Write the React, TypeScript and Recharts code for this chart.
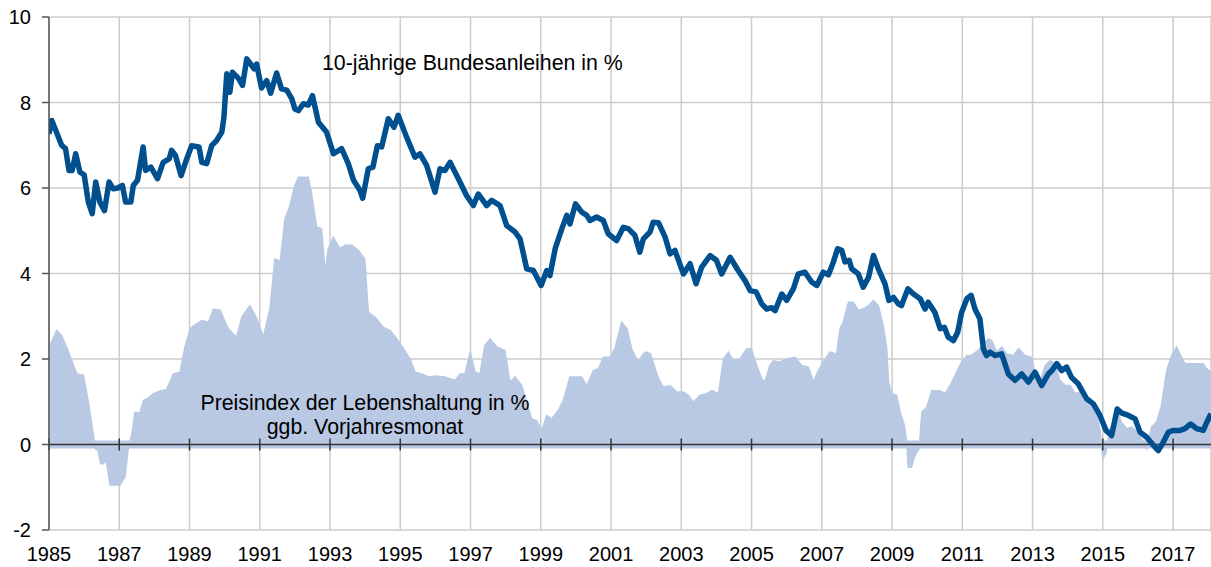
import { ComposedChart, Line, Area, XAxis, YAxis, CartesianGrid, ReferenceLine } from 'recharts';

// 10-jährige Bundesanleihen in %
const bondYears = [
  1985.0, 1985.08, 1985.36, 1985.47, 1985.57, 1985.66, 1985.76, 1985.88, 1986.0, 1986.12,
  1986.23, 1986.33, 1986.45, 1986.58, 1986.71, 1986.83, 1986.96, 1987.09, 1987.18, 1987.33,
  1987.4, 1987.52, 1987.68, 1987.75, 1987.9, 1988.09, 1988.25, 1988.42, 1988.49, 1988.6,
  1988.76, 1988.92, 1989.06, 1989.27, 1989.35, 1989.49, 1989.63, 1989.77, 1989.92, 1989.98,
  1990.06, 1990.15, 1990.22, 1990.4, 1990.51, 1990.63, 1990.84, 1990.91, 1991.05, 1991.2,
  1991.31, 1991.48, 1991.62, 1991.77, 1991.91, 1992.0, 1992.1, 1992.24, 1992.38, 1992.5,
  1992.67, 1992.9, 1993.1, 1993.33, 1993.52, 1993.67, 1993.85, 1993.93, 1994.09, 1994.22,
  1994.35, 1994.47, 1994.66, 1994.82, 1994.94, 1995.18, 1995.42, 1995.56, 1995.75, 1995.99,
  1996.13, 1996.27, 1996.42, 1996.65, 1996.89, 1997.08, 1997.22, 1997.46, 1997.6, 1997.84,
  1998.03, 1998.27, 1998.41, 1998.6, 1998.79, 1999.01, 1999.17, 1999.26, 1999.41, 1999.6,
  1999.74, 1999.83, 1999.99, 2000.16, 2000.31, 2000.4, 2000.59, 2000.78, 2000.92, 2001.16,
  2001.35, 2001.49, 2001.68, 2001.82, 2001.92, 2002.11, 2002.2, 2002.35, 2002.54, 2002.68,
  2002.82, 2003.06, 2003.25, 2003.42, 2003.58, 2003.82, 2004.0, 2004.15, 2004.39, 2004.62,
  2004.81, 2004.96, 2005.13, 2005.29, 2005.43, 2005.57, 2005.67, 2005.86, 2006.0, 2006.19,
  2006.33, 2006.52, 2006.71, 2006.86, 2007.04, 2007.19, 2007.33, 2007.45, 2007.57, 2007.66,
  2007.78, 2007.85, 2008.04, 2008.18, 2008.33, 2008.47, 2008.61, 2008.8, 2008.91, 2009.04,
  2009.18, 2009.27, 2009.45, 2009.61, 2009.8, 2009.94, 2010.03, 2010.22, 2010.37, 2010.49,
  2010.6, 2010.75, 2010.87, 2010.98, 2011.13, 2011.25, 2011.36, 2011.5, 2011.6, 2011.69,
  2011.79, 2011.93, 2012.12, 2012.31, 2012.5, 2012.69, 2012.88, 2013.07, 2013.26, 2013.45,
  2013.55, 2013.69, 2013.83, 2013.97, 2014.11, 2014.3, 2014.54, 2014.73, 2014.92, 2015.09,
  2015.25, 2015.41, 2015.53, 2015.73, 2015.92, 2016.06, 2016.25, 2016.44, 2016.58, 2016.72,
  2016.87, 2017.01, 2017.2, 2017.34, 2017.5, 2017.67, 2017.86, 2017.96, 2018.08,
];
const bondYield = [
  7.27, 7.58, 7.0, 6.92, 6.41, 6.41, 6.8, 6.37, 6.31, 5.67,
  5.4, 6.14, 5.67, 5.47, 6.14, 5.98, 6.0, 6.06, 5.67, 5.67,
  6.06, 6.18, 6.96, 6.41, 6.49, 6.22, 6.6, 6.68, 6.88, 6.76,
  6.29, 6.68, 6.99, 6.96, 6.6, 6.57, 6.99, 7.11, 7.31, 7.65,
  8.67, 8.24, 8.71, 8.56, 8.4, 9.02, 8.79, 8.9, 8.34, 8.51,
  8.22, 8.69, 8.32, 8.29, 8.09, 7.85, 7.81, 7.97, 7.94, 8.16,
  7.54, 7.31, 6.8, 6.92, 6.57, 6.18, 5.95, 5.76, 6.45, 6.49,
  6.99, 6.96, 7.62, 7.42, 7.7, 7.19, 6.72, 6.8, 6.53, 5.9,
  6.45, 6.41, 6.6, 6.22, 5.82, 5.59, 5.86, 5.59, 5.71, 5.59,
  5.12, 4.97, 4.81, 4.11, 4.07, 3.72, 4.07, 3.95, 4.58, 5.05,
  5.36, 5.16, 5.63, 5.44, 5.36, 5.24, 5.32, 5.24, 4.93, 4.77,
  5.08, 5.05, 4.89, 4.5, 4.81, 4.97, 5.2, 5.19, 4.85, 4.46,
  4.54, 3.99, 4.23, 3.76, 4.15, 4.42, 4.31, 3.99, 4.38, 4.07,
  3.84, 3.6, 3.57, 3.29, 3.17, 3.2, 3.13, 3.52, 3.37, 3.64,
  3.99, 4.03, 3.8, 3.72, 4.03, 3.97, 4.27, 4.58, 4.54, 4.27,
  4.31, 4.11, 3.99, 3.68, 3.91, 4.42, 4.11, 3.76, 3.37, 3.44,
  3.29, 3.25, 3.64, 3.52, 3.41, 3.17, 3.33, 3.09, 2.71, 2.74,
  2.51, 2.43, 2.63, 3.09, 3.41, 3.49, 3.17, 2.94, 2.24, 2.08,
  2.16, 2.08, 2.12, 1.65, 1.5, 1.65, 1.46, 1.69, 1.38, 1.65,
  1.73, 1.89, 1.73, 1.81, 1.57, 1.42, 1.07, 0.95, 0.68, 0.33,
  0.21, 0.83, 0.74, 0.68, 0.6, 0.29, 0.17, -0.02, -0.14, 0.05,
  0.29, 0.33, 0.33, 0.37, 0.48, 0.37, 0.33, 0.52, 0.72,
];

// Preisindex der Lebenshaltung in % ggb. Vorjahresmonat
const cpiYears = [
  1985.0, 1985.03, 1985.22, 1985.36, 1985.5, 1985.65, 1985.79, 1985.98, 1986.12, 1986.25,
  1986.32, 1986.4, 1986.47, 1986.55, 1986.62, 1986.74, 1987.02, 1987.16, 1987.26, 1987.35,
  1987.45, 1987.59, 1987.69, 1987.83, 1987.97, 1988.16, 1988.35, 1988.54, 1988.73, 1988.87,
  1989.01, 1989.06, 1989.35, 1989.54, 1989.68, 1989.87, 1990.1, 1990.34, 1990.49, 1990.72,
  1990.91, 1991.1, 1991.29, 1991.43, 1991.58, 1991.72, 1991.86, 1992.0, 1992.1, 1992.38,
  1992.47, 1992.62, 1992.76, 1992.86, 1992.95, 1993.09, 1993.28, 1993.43, 1993.62, 1993.81,
  1993.99, 1994.09, 1994.28, 1994.52, 1994.71, 1994.9, 1995.09, 1995.28, 1995.42, 1995.61,
  1995.8, 1996.04, 1996.27, 1996.56, 1996.7, 1996.84, 1996.99, 1997.13, 1997.27, 1997.41,
  1997.56, 1997.75, 1997.98, 1998.12, 1998.27, 1998.46, 1998.6, 1998.74, 1998.88, 1999.03,
  1999.17, 1999.31, 1999.5, 1999.64, 1999.83, 2000.16, 2000.31, 2000.5, 2000.64, 2000.78,
  2000.97, 2001.11, 2001.3, 2001.45, 2001.59, 2001.77, 2001.92, 2002.0, 2002.12, 2002.35,
  2002.49, 2002.68, 2002.87, 2003.06, 2003.2, 2003.34, 2003.53, 2003.72, 2003.87, 2004.06,
  2004.2, 2004.34, 2004.48, 2004.67, 2004.86, 2004.99, 2005.15, 2005.29, 2005.38, 2005.52,
  2005.62, 2005.8, 2006.0, 2006.24, 2006.43, 2006.62, 2006.76, 2006.9, 2007.04, 2007.23,
  2007.42, 2007.52, 2007.61, 2007.76, 2007.9, 2008.04, 2008.18, 2008.33, 2008.47, 2008.61,
  2008.75, 2008.85, 2008.9, 2008.99, 2009.13, 2009.23, 2009.35, 2009.42, 2009.46, 2009.55,
  2009.65, 2009.77, 2009.85, 2009.99, 2010.13, 2010.37, 2010.51, 2010.65, 2010.79, 2010.98,
  2011.13, 2011.25, 2011.45, 2011.6, 2011.74, 2011.84, 2011.98, 2012.12, 2012.26, 2012.45,
  2012.6, 2012.79, 2012.98, 2013.07, 2013.21, 2013.36, 2013.5, 2013.64, 2013.78, 2013.93,
  2014.07, 2014.21, 2014.35, 2014.54, 2014.68, 2014.83, 2014.92, 2015.0, 2015.09, 2015.19,
  2015.3, 2015.39, 2015.53, 2015.68, 2015.82, 2016.0, 2016.1, 2016.25, 2016.39, 2016.53,
  2016.67, 2016.82, 2016.96, 2017.1, 2017.24, 2017.34, 2017.48, 2017.67, 2017.86, 2017.96,
  2018.08,
];
const cpiRate = [
  2.2, 2.32, 2.67, 2.55, 2.28, 1.96, 1.65, 1.62, 0.99, 0.3,
  -0.1, -0.15, -0.45, -0.45, -0.35, -0.95, -0.95, -0.76, -0.07, 0.21,
  0.76, 0.74, 1.03, 1.09, 1.19, 1.25, 1.29, 1.65, 1.69, 2.28,
  2.67, 2.74, 2.9, 2.86, 3.17, 3.14, 2.71, 2.51, 2.98, 3.25,
  2.96, 2.51, 3.17, 4.34, 4.28, 5.28, 5.59, 6.06, 6.25, 6.25,
  5.9, 5.08, 5.05, 4.03, 4.58, 4.85, 4.58, 4.66, 4.66, 4.54,
  4.34, 3.09, 2.98, 2.74, 2.67, 2.47, 2.24, 2.0, 1.69, 1.65,
  1.58, 1.6, 1.58, 1.5, 1.65, 1.65, 2.16, 1.69, 1.65, 2.32,
  2.47, 2.28, 2.2, 1.46, 1.58, 1.38, 0.99, 0.6, 0.56, 0.33,
  0.68, 0.6, 0.8, 1.03, 1.58, 1.58, 1.38, 1.73, 1.77, 2.04,
  2.04, 2.24, 2.86, 2.71, 2.24, 1.93, 2.12, 2.16, 2.12, 1.54,
  1.34, 1.38, 1.23, 1.23, 1.15, 0.99, 1.15, 1.19, 1.26, 1.19,
  2.0, 2.16, 1.96, 2.0, 2.24, 2.24, 1.85, 1.54, 1.46, 1.85,
  1.96, 1.93, 2.0, 2.04, 1.85, 1.81, 1.46, 1.73, 1.93, 2.16,
  2.12, 2.71, 2.86, 3.33, 3.33, 3.14, 3.17, 3.25, 3.37, 3.25,
  2.78, 2.24, 1.46, 1.19, 1.15, 0.76, 0.45, 0.05, -0.53, -0.53,
  -0.26, -0.1, 0.76, 0.87, 1.26, 1.26, 1.19, 1.38, 1.61, 1.93,
  2.08, 2.08, 2.2, 2.36, 2.47, 2.43, 2.16, 2.28, 2.12, 2.08,
  2.24, 2.08, 2.04, 1.65, 1.46, 1.85, 1.96, 1.89, 1.5, 1.38,
  1.38, 1.19, 1.23, 0.95, 0.87, 0.68, 0.33, -0.33, -0.2, 0.33,
  0.48, 0.83, 0.52, 0.37, 0.41, 0.29, 0.13, -0.1, 0.41, 0.52,
  0.91, 1.73, 2.08, 2.28, 2.04, 1.89, 1.89, 1.89, 1.89, 1.77,
  1.69,
];

const xTicks = [1985, 1987, 1989, 1991, 1993, 1995, 1997, 1999, 2001, 2003, 2005, 2007, 2009, 2011, 2013, 2015, 2017];
const yTicks = [-2, 0, 2, 4, 6, 8, 10];

const bondData = bondYears.map((t, i) => ({ t, v: bondYield[i] }));
const cpiData = cpiYears.map((t, i) => ({ t, v: cpiRate[i] }));

const FONT = '"Liberation Sans", Arial, sans-serif';
const BLUE = '#00508f';
const FILL = '#b9c9e3';

export default function App() {
  return (
    <div style={{ position: 'absolute', left: 0, top: 0, width: 1211, height: 567, background: '#fff', fontFamily: FONT }}>
      <ComposedChart width={1211} height={567} margin={{ top: 17, right: 0, bottom: 0, left: 0 }}>
        <CartesianGrid stroke="#cccccc" strokeWidth={1.5} />
        <XAxis
          type="number"
          dataKey="t"
          domain={[1985, 2018.08]}
          ticks={xTicks}
          allowDataOverflow
          axisLine={false}
          tickLine={false}
          tickSize={0}
          tickMargin={17}
          height={37}
          tick={{ fontSize: 20, fill: '#000', fontFamily: FONT }}
        />
        <YAxis
          type="number"
          domain={[-2, 10]}
          ticks={yTicks}
          width={49}
          axisLine={{ stroke: '#555', strokeWidth: 1.5 }}
          tickLine={{ stroke: '#555', strokeWidth: 1.5 }}
          tickSize={7}
          tickMargin={11}
          tick={{ fontSize: 20, fill: '#000', fontFamily: FONT }}
        />
        <Area
          data={cpiData}
          dataKey="v"
          type="linear"
          baseValue={0}
          fill={FILL}
          fillOpacity={1}
          stroke={FILL}
          strokeWidth={1.5}
          isAnimationActive={false}
        />
        <ReferenceLine y={0} stroke={FILL} strokeWidth={8} />
        <ReferenceLine y={0} stroke="#333" strokeWidth={1.5} />
        {xTicks.map((x) => (
          <ReferenceLine key={x} segment={[{ x, y: -0.14 }, { x, y: 0.14 }]} stroke="#333" strokeWidth={1.5} />
        ))}
        <Line
          data={bondData}
          dataKey="v"
          type="linear"
          stroke={BLUE}
          strokeWidth={5.5}
          dot={false}
          strokeLinejoin="round"
          isAnimationActive={false}
        />
      </ComposedChart>
      <svg width={1211} height={567} style={{ position: 'absolute', left: 0, top: 0, pointerEvents: 'none' }}>
        <text x={322} y={70} fontSize={21.3} fontFamily={FONT} fill="#000">10-jährige Bundesanleihen in %</text>
        <text x={365} y={410} fontSize={21.3} fontFamily={FONT} fill="#000" textAnchor="middle">Preisindex der Lebenshaltung in %</text>
        <text x={365} y={434} fontSize={21.3} fontFamily={FONT} fill="#000" textAnchor="middle">ggb. Vorjahresmonat</text>
      </svg>
    </div>
  );
}
